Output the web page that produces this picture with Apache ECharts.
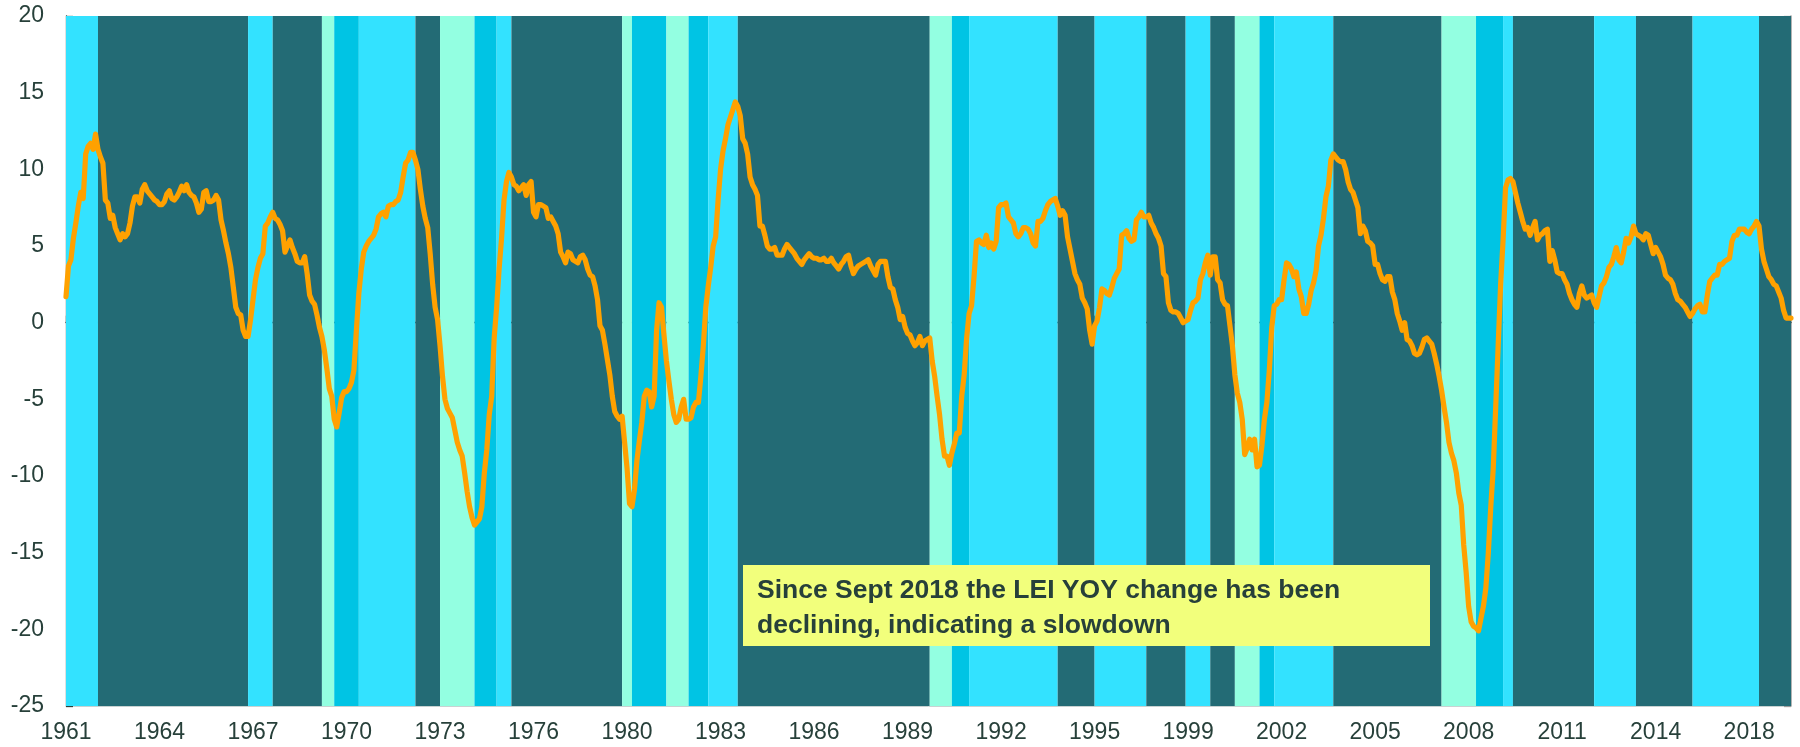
<!DOCTYPE html>
<html>
<head>
<meta charset="utf-8">
<script src="https://cdn.jsdelivr.net/npm/echarts@6/dist/echarts.min.js"></script>
<style>
html,body{margin:0;padding:0;background:#fff;}
#chart{width:1800px;height:747px;}
</style>
</head>
<body>
<div id="chart"></div>
<script>
// Monthly categories Jan 1961 .. Jun 2019
const startYear = 1961;
const monthCount = 702;
const months = [];
for (let i = 0; i < monthCount; i++) {
  const y = startYear + Math.floor(i / 12);
  const m = (i % 12) + 1;
  months.push(y + '-' + (m < 10 ? '0' + m : m));
}

// LEI year-over-year % change, one row per year
const leiYoY = [
  1.7, 3.7, 4.1, 5.5, 6.5, 7.6, 8.5, 8.1, 11.0, 11.5, 11.7, 11.3,      // 1961
  12.3, 11.3, 10.8, 10.4, 8.0, 7.8, 6.8, 7.0, 6.2, 5.8, 5.4, 5.8,       // 1962
  5.6, 5.8, 6.5, 7.6, 8.2, 8.2, 7.8, 8.7, 9.0, 8.6, 8.4, 8.2,           // 1963
  8.0, 7.9, 7.7, 7.7, 7.9, 8.4, 8.6, 8.1, 8.0, 8.2, 8.5, 8.9,           // 1964
  8.6, 9.0, 8.5, 8.3, 8.2, 7.8, 7.2, 7.4, 8.5, 8.6, 7.9, 7.9,           // 1965
  8.0, 8.3, 8.0, 6.7, 6.0, 5.2, 4.5, 3.6, 2.3, 1.0, 0.6, 0.5,           // 1966
  -0.5, -0.9, -0.9, 0.2, 1.5, 2.8, 3.6, 4.2, 4.5, 6.3, 6.5, 6.9,        // 1967
  7.2, 6.8, 6.7, 6.4, 6.0, 4.6, 5.0, 5.4, 4.9, 4.5, 4.0, 3.9,           // 1968
  3.9, 4.3, 3.2, 1.8, 1.4, 1.2, 0.5, -0.3, -0.9, -1.8, -3.0, -4.3,      // 1969
  -4.8, -6.3, -6.8, -5.9, -4.9, -4.5, -4.5, -4.3, -3.9, -3.1, -0.5, 1.9, // 1970
  3.5, 4.6, 5.0, 5.3, 5.5, 5.7, 6.1, 6.9, 7.1, 7.2, 6.9, 7.6,           // 1971
  7.7, 7.7, 7.9, 8.0, 8.5, 9.5, 10.4, 10.6, 11.1, 11.1, 10.6, 10.0,     // 1972
  8.7, 7.6, 6.8, 6.2, 4.5, 2.5, 1.0, 0.2, -1.5, -3.5, -5.0, -5.6,       // 1973
  -5.9, -6.2, -7.0, -7.8, -8.3, -8.7, -9.8, -11.0, -12.0, -12.7, -13.2, -13.0, // 1974
  -12.8, -12.0, -9.8, -8.3, -6.0, -4.8, -1.0, 1.0, 3.5, 5.5, 8.0, 9.2,  // 1975
  9.8, 9.5, 9.0, 8.9, 8.6, 8.8, 9.0, 8.3, 9.0, 9.2, 7.2, 6.9,           // 1976
  7.7, 7.7, 7.6, 7.5, 6.8, 6.9, 6.6, 6.3, 5.8, 4.6, 4.3, 3.9,           // 1977
  4.6, 4.5, 4.1, 4.0, 3.9, 4.3, 4.4, 4.1, 3.5, 3.1, 3.0, 2.4,           // 1978
  1.5, -0.2, -0.5, -1.4, -2.4, -3.4, -4.8, -5.8, -6.1, -6.3, -6.1, -7.8, // 1979
  -9.5, -11.8, -12.0, -10.9, -9.0, -7.7, -6.5, -4.8, -4.4, -4.5, -5.5, -4.8, // 1980
  -0.5, 1.3, 1.0, -0.8, -2.5, -3.8, -5.0, -6.0, -6.5, -6.3, -5.5, -5.0, // 1981
  -6.3, -6.3, -6.2, -5.5, -5.2, -5.2, -3.5, -1.5, 1.0, 2.4, 3.6, 5.0,   // 1982
  5.6, 8.0, 10.0, 11.2, 12.0, 12.9, 13.4, 13.9, 14.4, 14.1, 13.5, 12.0, // 1983
  11.7, 11.0, 9.5, 9.0, 8.7, 8.3, 6.3, 6.3, 5.7, 5.0, 4.8, 4.8,         // 1984
  4.9, 4.4, 4.4, 4.4, 4.8, 5.1, 4.9, 4.7, 4.5, 4.2, 4.0, 3.8,           // 1985
  4.1, 4.3, 4.5, 4.3, 4.2, 4.2, 4.1, 4.1, 4.2, 4.0, 4.0, 4.2,           // 1986
  3.9, 3.7, 3.5, 3.8, 4.0, 4.3, 4.4, 3.7, 3.2, 3.5, 3.7, 3.8,           // 1987
  3.9, 4.0, 4.1, 3.7, 3.4, 3.1, 3.8, 4.0, 4.0, 4.0, 3.0, 2.3,           // 1988
  2.2, 1.5, 1.0, 0.2, 0.4, -0.3, -0.7, -0.8, -1.2, -1.5, -1.3, -0.9,    // 1989
  -1.5, -1.2, -1.1, -1.0, -2.5, -3.5, -4.8, -6.0, -7.6, -8.7, -8.7, -9.3, // 1990
  -8.5, -7.9, -7.2, -7.2, -4.8, -3.4, -1.0, 0.6, 1.1, 3.0, 5.3, 5.4,    // 1991
  5.2, 5.1, 5.7, 4.9, 5.2, 4.8, 5.3, 7.5, 7.7, 7.7, 7.8, 6.9,           // 1992
  6.7, 6.5, 5.8, 5.6, 5.8, 6.2, 6.2, 6.1, 5.8, 5.2, 5.0, 6.6,           // 1993
  6.6, 6.8, 7.3, 7.7, 7.9, 8.0, 8.1, 7.6, 7.0, 7.3, 7.0, 5.6,           // 1994
  4.8, 4.0, 3.2, 2.8, 2.5, 1.6, 1.3, 0.9, -0.5, -1.4, -0.2, 0.1,        // 1995
  1.0, 2.2, 2.1, 1.9, 1.8, 2.3, 2.9, 3.2, 3.5, 5.7, 5.8, 6.0,           // 1996
  5.5, 5.3, 5.4, 6.7, 6.9, 7.2, 6.9, 6.9, 7.0, 6.5, 6.2, 5.8,           // 1997
  5.5, 5.0, 3.2, 3.0, 1.3, 0.8, 0.7, 0.7, 0.6, 0.3, 0.0, 0.1,           // 1998
  0.2, 0.8, 1.3, 1.4, 1.6, 2.8, 3.2, 3.9, 4.4, 3.1, 4.3, 4.3,           // 1999
  2.8, 2.6, 1.5, 1.2, 1.1, -0.2, -1.5, -3.4, -4.6, -5.2, -6.3, -8.6,    // 2000
  -8.2, -7.6, -8.3, -7.6, -9.4, -9.3, -8.0, -6.3, -5.2, -3.1, -0.3, 1.1, // 2001
  1.2, 1.5, 1.5, 2.8, 3.9, 3.8, 3.5, 3.0, 3.3, 2.2, 1.7, 0.6,           // 2002
  0.6, 1.2, 2.1, 2.6, 3.4, 5.0, 5.7, 6.8, 8.2, 8.9, 10.6, 11.0,         // 2003
  10.8, 10.6, 10.5, 10.5, 10.0, 9.2, 8.7, 8.5, 8.0, 7.5, 5.8, 6.3,      // 2004
  6.0, 5.3, 5.2, 5.0, 3.8, 3.8, 3.2, 2.8, 2.7, 3.0, 3.0, 2.0,           // 2005
  1.5, 0.6, 0.1, -0.5, 0.0, -1.1, -1.2, -1.5, -2.0, -2.1, -2.0, -1.6,   // 2006
  -1.1, -1.0, -1.2, -1.4, -2.0, -2.7, -3.5, -4.4, -5.5, -6.5, -7.8, -8.5, // 2007
  -9.0, -9.8, -11.1, -11.9, -14.5, -16.3, -18.5, -19.5, -19.8, -19.9, -20.1, -19.3, // 2008
  -18.5, -17.3, -15.0, -12.0, -9.5, -5.5, -1.5, 2.5, 5.4, 8.8, 9.3, 9.4, // 2009
  9.2, 8.5, 7.8, 7.2, 6.6, 6.1, 6.2, 5.7, 6.2, 6.6, 5.4, 5.7,           // 2010
  5.8, 6.0, 6.1, 4.0, 4.7, 4.1, 3.3, 3.2, 3.2, 2.8, 2.5, 1.9,           // 2011
  1.5, 1.2, 1.0, 1.9, 2.4, 1.8, 1.6, 1.7, 1.8, 1.3, 1.0, 1.7,           // 2012
  2.4, 2.6, 3.0, 3.6, 3.8, 4.3, 4.9, 4.1, 3.9, 4.6, 5.5, 5.2,           // 2013
  5.6, 6.3, 5.8, 5.7, 5.6, 5.4, 5.8, 5.7, 5.1, 4.5, 4.9, 4.6,           // 2014
  4.3, 3.8, 3.1, 2.9, 2.8, 2.5, 1.9, 1.5, 1.4, 1.2, 1.0, 0.7,           // 2015
  0.4, 0.6, 0.9, 1.1, 1.2, 0.7, 0.7, 1.8, 2.7, 2.9, 3.1, 3.1,           // 2016
  3.8, 3.8, 4.0, 4.1, 4.2, 5.3, 5.7, 5.7, 6.1, 6.1, 6.1, 5.9,           // 2017
  5.8, 6.1, 6.3, 6.6, 6.3, 4.8, 4.0, 3.5, 3.0, 2.8, 2.5, 2.4,           // 2018
  2.0, 1.6, 0.8, 0.3, 0.3, 0.3                                          // 2019
];

// Background regime bands
const bandStart = ['1961-01','1962-02','1967-03','1968-01','1969-09','1970-02','1970-12','1972-11','1973-09','1974-11',
  '1975-08','1976-02','1979-11','1980-03','1981-05','1982-02','1982-10','1983-10','1990-04','1991-01',
  '1991-08','1994-08','1995-11','1997-08','1998-12','1999-10','2000-08','2001-06','2001-12','2003-12',
  '2007-08','2008-10','2009-09','2010-01','2012-10','2014-03','2016-02','2018-05'];
const bandEnd = ['1962-02','1967-03','1968-01','1969-09','1970-02','1970-12','1972-11','1973-09','1974-11','1975-08',
  '1976-02','1979-11','1980-03','1981-05','1982-02','1982-10','1983-10','1990-04','1991-01','1991-08',
  '1994-08','1995-11','1997-08','1998-12','1999-10','2000-08','2001-06','2001-12','2003-12','2007-08',
  '2008-10','2009-09','2010-01','2012-10','2014-03','2016-02','2018-05','2019-06'];
const bandPhase = ['c','d','c','d','m','b','c','d','m','b',
  'c','d','m','b','m','b','c','d','m','b',
  'c','d','c','d','c','d','m','b','c','d',
  'm','b','c','d','c','d','c','d'];
const phaseColor = { d: '#236B75', c: '#33E2FF', b: '#00C4E4', m: '#93FFE1' };

const yTicks = { min: -25, max: 20, step: 5 };
const noteText = ['Since Sept 2018 the LEI YOY change has been', 'declining, indicating a slowdown'];

const FONT = '"Liberation Sans", Arial, sans-serif';
const TXT = '#27403A';

const areas = bandStart.map((s, i) => [
  { xAxis: s, itemStyle: { color: phaseColor[bandPhase[i]] } },
  { xAxis: bandEnd[i] }
]);

const chart = echarts.init(document.getElementById('chart'), null, { renderer: 'canvas' });
chart.setOption({
  animation: false,
  grid: { left: 66, right: 9, top: 16, bottom: 41, containLabel: false },
  xAxis: [
    {
      type: 'category', data: months, boundaryGap: false, position: 'bottom',
      axisLine: { show: true, onZero: false, lineStyle: { color: '#C9D2D2', width: 1 } },
      axisTick: { show: false },
      axisLabel: {
        interval: 37, margin: 15, fontSize: 23, color: TXT, fontFamily: FONT,
        formatter: v => v.slice(0, 4)
      },
      splitLine: { show: false }
    },
    {
      type: 'category', data: months, boundaryGap: false, position: 'bottom',
      axisLine: { show: true, onZero: true, onZeroAxisIndex: 0, lineStyle: { color: '#2F3F3A', width: 1.3 } },
      axisTick: { show: true, inside: true, interval: 37, length: 7, lineStyle: { color: '#2F3F3A', width: 1.3 } },
      axisLabel: { show: false },
      splitLine: { show: false }
    }
  ],
  yAxis: [
    {
      type: 'value', min: yTicks.min, max: yTicks.max, interval: yTicks.step, position: 'left',
      axisLine: { show: true, lineStyle: { color: '#2F3F3A', width: 1.3 } },
      axisTick: { show: true, inside: true, length: 7, lineStyle: { color: '#2F3F3A', width: 1.3 } },
      axisLabel: { fontSize: 23, color: TXT, fontFamily: FONT, margin: 22 },
      splitLine: { show: false }
    },
    {
      type: 'value', min: 0, max: 10, interval: 1, position: 'right',
      axisLine: { show: true, lineStyle: { color: '#9A9A9A', width: 1.5 } },
      axisTick: { show: true, inside: true, length: 7, lineStyle: { color: '#9A9A9A', width: 1.3 } },
      axisLabel: { show: false },
      splitLine: { show: false }
    }
  ],
  series: [
    {
      name: 'bands', type: 'line', data: [], z: 1, silent: true,
      markArea: { silent: true, data: areas }
    },
    {
      name: 'LEI YOY', type: 'line', data: leiYoY, z: 5, symbol: 'none', smooth: false,
      lineStyle: { color: '#FFA100', width: 5.2, join: 'round', cap: 'round' },
      itemStyle: { color: '#FFA100' }
    }
  ],
  graphic: [
    {
      type: 'rect', left: 743, top: 565, z: 100,
      shape: { width: 687, height: 81 },
      style: { fill: '#F2FF7C' }
    },
    {
      type: 'text', left: 757, top: 573, z: 101,
      style: {
        text: noteText.join('\n'),
        font: 'bold 26.5px ' + FONT,
        fill: TXT,
        lineHeight: 35
      }
    }
  ]
});
</script>
</body>
</html>
